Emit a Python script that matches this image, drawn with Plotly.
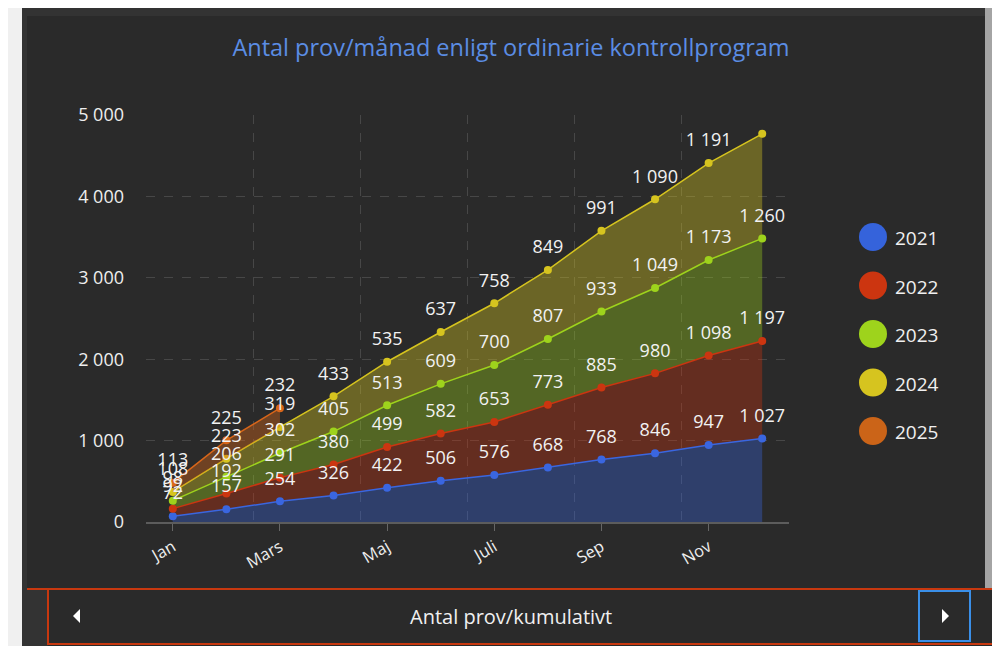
import numpy as np
import plotly.graph_objects as go

# the page puts the figure 8px in from the top-left corner
OFF = 8
W, H = 1000 - OFF, 646 - OFF
# plot area in page pixels
L, R, T, B = 146, 789, 115, 522

months = ["Jan", "Feb", "Mars", "Apr", "Maj", "Juni", "Juli", "Aug", "Sep", "Okt", "Nov", "Dec"]
tick_months = ["Jan", "Mars", "Maj", "Juli", "Sep", "Nov"]

years = ["2021", "2022", "2023", "2024", "2025"]
v2021 = [72, 157, 254, 326, 422, 506, 576, 668, 768, 846, 947, 1027]
v2022 = [92, 192, 291, 380, 499, 582, 653, 773, 885, 980, 1098, 1197]
v2023 = [98, 206, 302, 405, 513, 609, 700, 807, 933, 1049, 1173, 1260]
v2024 = [108, 223, 319, 433, 535, 637, 758, 849, 991, 1090, 1191, 1285]
v2025 = [113, 225, 232]

line_colors = ["#3a66e0", "#cc3510", "#9ed31c", "#d6c41f", "#d8661a"]
fill_colors = ["rgba(58,102,224,0.36)", "rgba(204,53,16,0.36)", "rgba(158,211,28,0.36)",
               "rgba(214,196,31,0.38)", "rgba(216,102,26,0.40)"]
legend_colors = ["#3563db", "#cc3510", "#9ed31c", "#d6c41f", "#cb6418"]

FONT = "Open Sans"


def px(x):
    return (x - L) / (R - L)


def py(y):
    return (B - y) / (B - T)


def fmt(v):
    return f"{v:,}".replace(",", " ")


fig = go.Figure()
label_traces = []

series = [v2021, v2022, v2023, v2024]
base = np.zeros(12)
for i, vals in enumerate(series):
    top = base + np.array(vals)
    fig.add_trace(go.Scatter(
        x=list(range(12)), y=top, mode="lines+markers",
        line=dict(color=line_colors[i], width=1.5),
        marker=dict(size=8, color=line_colors[i]),
        fill="tozeroy" if i == 0 else "tonexty", fillcolor=fill_colors[i],
        showlegend=False, hoverinfo="skip"))
    labels = [fmt(v) for v in vals]
    if i == 3:
        labels[-1] = ""  # clipped at the top in the original
    label_traces.append((list(range(12)), top, labels))
    base = top

# 2025 sits on top of 2024 for the months it has
n25 = len(v2025)
fig.add_trace(go.Scatter(x=list(range(n25)), y=base[:n25], mode="lines",
                         line=dict(width=0), showlegend=False, hoverinfo="skip"))
top25 = base[:n25] + np.array(v2025)
fig.add_trace(go.Scatter(
    x=list(range(n25)), y=top25, mode="lines+markers",
    line=dict(color=line_colors[4], width=1.5),
    marker=dict(size=8, color=line_colors[4]),
    fill="tonexty", fillcolor=fill_colors[4],
    showlegend=False, hoverinfo="skip"))
label_traces.append((list(range(n25)), top25, [fmt(v) for v in v2025]))

# value labels on top of everything (invisible marker keeps them off the points)
for xs, ys, labels in label_traces:
    fig.add_trace(go.Scatter(
        x=xs, y=ys, mode="markers+text", text=labels, textposition="top center",
        marker=dict(size=18, opacity=0),
        textfont=dict(color="#f2f2f2", size=18, family=FONT),
        cliponaxis=False, showlegend=False, hoverinfo="skip"))

P = dict(xref="paper", yref="paper")
shapes = [
    # panel
    dict(type="rect", x0=px(22), x1=px(985), y0=py(8), y1=py(646),
         fillcolor="#333333", line_width=0, layer="below", **P),
    dict(type="rect", x0=px(27), x1=px(985), y0=py(16), y1=py(589),
         fillcolor="#2a2a2a", line_width=0, layer="below", **P),
    dict(type="rect", x0=px(48), x1=px(1000), y0=py(589), y1=py(646),
         fillcolor="#2a2a2a", line_width=0, layer="below", **P),
    dict(type="rect", x0=px(985), x1=px(1000), y0=py(0), y1=py(589),
         fillcolor="#a4a4a4", line_width=0, layer="below", **P),
    # nav bar borders
    dict(type="path", path=f"M{px(27)},{py(589)} L{px(1000)},{py(589)}",
         line=dict(color="#c8380f", width=2), **P),
    dict(type="path", path=f"M{px(48)},{py(589)} L{px(48)},{py(644)} L{px(1000)},{py(644)}",
         line=dict(color="#c8380f", width=2), **P),
    dict(type="rect", x0=px(919), x1=px(970), y0=py(591), y1=py(641),
         line=dict(color="#3a8fe8", width=2), **P),
    # arrows
    dict(type="path", path=f"M{px(80)},{py(609)} L{px(73)},{py(616)} L{px(80)},{py(623)} Z",
         fillcolor="white", line_width=0, **P),
    dict(type="path", path=f"M{px(942)},{py(609)} L{px(949)},{py(616)} L{px(942)},{py(623)} Z",
         fillcolor="white", line_width=0, **P),
]

annotations = [
    dict(text="Antal prov/kumulativt", x=px(511), y=py(616), xanchor="center", yanchor="middle",
         showarrow=False, font=dict(color="#f0f0f0", size=20, family=FONT), **P),
]

# legend drawn by hand: big circles with year labels
for i, yr in enumerate(years):
    cy = 237 + i * 48.5
    shapes.append(dict(type="circle", x0=px(859), x1=px(887), y0=py(cy - 14), y1=py(cy + 14),
                       fillcolor=legend_colors[i], line_width=0, **P))
    annotations.append(dict(text=yr, x=px(893), y=py(cy + 1), xanchor="left", yanchor="middle",
                            showarrow=False,
                            font=dict(color="#f0f0f0", size=19, family=FONT), **P))

fig.update_layout(
    width=W, height=H,
    margin=dict(l=L - OFF, r=1000 - R, t=T - OFF, b=646 - B),
    paper_bgcolor="#f0f0f0", plot_bgcolor="rgba(0,0,0,0)",
    separators=", ",
    title=dict(text="Antal prov/månad enligt ordinarie kontrollprogram",
               x=(511 - OFF) / W, xanchor="center", y=1 - (48 - OFF) / H, yanchor="middle",
               font=dict(color="#5b8de4", size=23.5, family=FONT)),
    showlegend=False,
    shapes=shapes,
    annotations=annotations,
    xaxis=dict(range=[-0.5, 11.5], tickmode="array",
               tickvals=[months.index(m) for m in tick_months], ticktext=tick_months,
               tickangle=-30, tickfont=dict(color="#eeeeee", size=16.5, family=FONT),
               ticks="outside", ticklen=7, tickcolor="#666666",
               showgrid=False, zeroline=False,
               showline=True, linecolor="#5c5c5c", linewidth=2,
               minor=dict(tickmode="array", tickvals=[-0.5, 1.5, 3.5, 5.5, 7.5, 9.5, 11.5],
                          showgrid=True, griddash="dash", gridcolor="#474747",
                          gridwidth=1, ticklen=0)),
    yaxis=dict(range=[0, 5000], dtick=1000, separatethousands=True,
               tickfont=dict(color="#eeeeee", size=18, family=FONT),
               showgrid=True, griddash="dash", gridcolor="#474747", gridwidth=1,
               zeroline=False, ticklabelstandoff=21),
)

fig.write_html("out.html")
